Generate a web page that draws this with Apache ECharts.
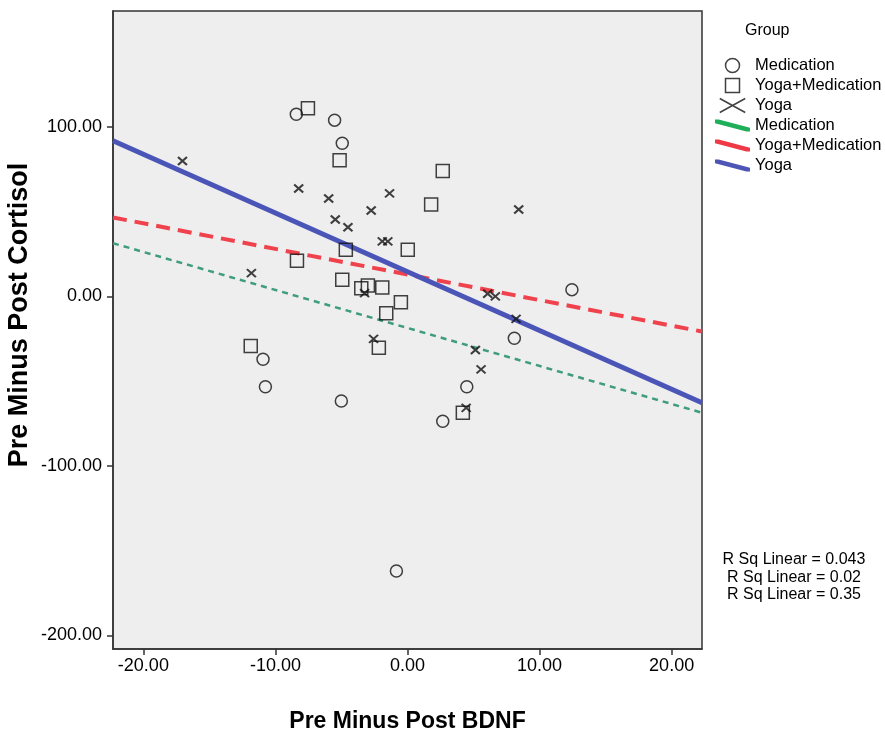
<!DOCTYPE html>
<html>
<head>
<meta charset="utf-8">
<title>BDNF vs Cortisol</title>
<style>
  html, body { margin: 0; padding: 0; background: #fff; }
  #main { width: 885px; height: 740px; }
</style>
</head>
<body>
<div id="main"></div>
<script src="https://cdn.jsdelivr.net/npm/echarts@6/dist/echarts.min.js"></script>
<script>
// points: [BDNF change, cortisol change]
var medication = [
  [-8.42, 107.5], [-5.52, 104], [-4.94, 90.4], [-10.94, -37.1], [-10.76, -53.3],
  [-5.01, -61.7], [12.45, 4.0], [8.09, -24.7], [4.49, -53.3], [2.67, -73.6], [-0.84, -162]
];
var yogaMed = [
  [-7.54, 111], [-5.14, 80.3], [2.67, 74], [1.79, 54.3], [0.02, 27.5], [-4.67, 27.6],
  [-8.37, 21.1], [-4.94, 9.9], [-3.5, 4.9], [-3.0, 6.5], [-1.91, 5.3], [-0.5, -3.4],
  [-1.61, -9.9], [-2.17, -30.2], [-11.87, -29.2], [4.19, -68.6]
];
var yoga = [
  [-17.04, 79.9], [-8.24, 63.7], [-5.97, 57.8], [-1.36, 60.8], [-2.75, 50.7], [-5.47, 45.4],
  [-4.51, 40.8], [-1.91, 32.5], [-1.49, 32.5], [8.42, 51.3], [-11.82, 13.8], [-3.25, 2.0],
  [-2.57, -25], [6.07, 1.6], [6.65, 0], [8.22, -13.2], [5.14, -31.6], [5.57, -43], [4.44, -65.7]
];

// fit lines, ends at the axis limits
var medFit = [[-22.3, 31.4], [22.3, -68.6]];
var yogaMedFit = [[-22.3, 46.6], [22.3, -20.7]];
var yogaFit = [[-22.3, 91.8], [22.3, -62.7]];

var xTicks = [-20, -10, 0, 10, 20];
var yTicks = [-200, -100, 0, 100];
var rsq = ['0.043', '0.02', '0.35'];

var chart = echarts.init(document.getElementById('main'));

var crossPath = 'path://M0,0L10,10M10,0L0,10';
var fitIcon = 'path://M0,0L4,0L38,9L38,13L34,13L0,4Z';
var hollow = { color: 'rgba(0,0,0,0)', borderColor: '#111', borderWidth: 1.5 };
var names = {
  med: 'Medication', ym: 'Yoga+Medication', yo: 'Yoga',
  medFit: 'Medication', ymFit: 'Yoga+Medication', yoFit: 'Yoga'
};
var font = 'Liberation Sans, Arial, sans-serif';

option = {
  backgroundColor: '#fff',
  animation: false,
  grid: {
    left: 113, right: 183, top: 11, bottom: 91,
    outerBoundsMode: 'none',
    show: true,
    backgroundColor: '#eeeeee',
    borderColor: '#333',
    borderWidth: 1.5
  },
  xAxis: {
    type: 'value',
    min: -22.3, max: 22.3,
    name: 'Pre Minus Post BDNF',
    nameLocation: 'middle',
    nameGap: 61,
    nameTextStyle: { fontFamily: font, fontWeight: 'bold', fontSize: 23, color: '#000' },
    splitLine: { show: false },
    axisLine: { onZero: false, lineStyle: { color: '#333', width: 1.5 } },
    axisTick: { customValues: xTicks, length: 6, lineStyle: { color: '#333', width: 1.5 } },
    axisLabel: {
      customValues: xTicks, margin: 8,
      fontFamily: font, fontSize: 18, color: '#000',
      formatter: function (v) { return v.toFixed(2); }
    }
  },
  yAxis: {
    type: 'value',
    min: -208, max: 168.4,
    name: 'Pre Minus Post Cortisol',
    nameLocation: 'middle',
    nameGap: 80,
    nameMoveOverlap: false,
    nameRotate: 90,
    nameTextStyle: {
      fontFamily: font, fontWeight: 'bold', fontSize: 27, color: '#000',
      padding: [0, 0, 0, 30]
    },
    splitLine: { show: false },
    axisLine: { onZero: false, lineStyle: { color: '#333', width: 1.5 } },
    axisTick: { customValues: yTicks, length: 6, lineStyle: { color: '#333', width: 1.5 } },
    axisLabel: {
      customValues: yTicks, margin: 11,
      fontFamily: font, fontSize: 18, color: '#000',
      formatter: function (v) { return v.toFixed(2); }
    }
  },
  legend: {
    orient: 'vertical',
    left: 710, top: 52,
    itemWidth: 35, itemHeight: 14, itemGap: 3,
    selectedMode: false,
    textStyle: { fontFamily: font, fontSize: 16.5, color: '#000', lineHeight: 16 },
    formatter: function (n) { return names[n]; },
    data: [
      { name: 'med', icon: 'circle', itemStyle: hollow },
      { name: 'ym', icon: 'path://M0,0L10,0L10,10L0,10Z', itemStyle: hollow },
      { name: 'yo', icon: 'path://M0,0L20,11M20,0L0,11', itemStyle: hollow },
      { name: 'medFit', icon: fitIcon, itemStyle: { color: '#1fae5a', borderWidth: 0 } },
      { name: 'ymFit', icon: fitIcon, itemStyle: { color: '#ee3a47', borderWidth: 0 } },
      { name: 'yoFit', icon: fitIcon, itemStyle: { color: '#4d55b5', borderWidth: 0 } }
    ]
  },
  graphic: [
    {
      type: 'text', left: 745, top: 23,
      style: { text: 'Group', font: '16px ' + font, fill: '#000' }
    },
    {
      type: 'text', x: 794, y: 551,
      style: {
        text: rsq.map(function (r) { return 'R Sq Linear = ' + r; }).join('\n'),
        font: '16px ' + font, fill: '#000', align: 'center', lineHeight: 17.5
      }
    }
  ],
  series: [
    {
      name: 'medFit', type: 'line', data: medFit, symbol: 'none', silent: true, z: 2,
      itemStyle: { color: '#1fae5a' },
      lineStyle: { color: '#3f9d7c', width: 2.5, type: [6, 5] }
    },
    {
      name: 'ymFit', type: 'line', data: yogaMedFit, symbol: 'none', silent: true, z: 2,
      itemStyle: { color: '#ee3a47' },
      lineStyle: { color: '#f0424c', width: 4, type: [14, 8] }
    },
    {
      name: 'yoFit', type: 'line', data: yogaFit, symbol: 'none', silent: true, z: 2,
      itemStyle: { color: '#4d55b5' },
      lineStyle: { color: '#4b55b8', width: 5 }
    },
    {
      name: 'med', type: 'scatter', data: medication, z: 3,
      symbol: 'circle', symbolSize: 12, itemStyle: hollow
    },
    {
      name: 'ym', type: 'scatter', data: yogaMed, z: 3,
      symbol: 'rect', symbolSize: 13, itemStyle: hollow
    },
    {
      name: 'yo', type: 'scatter', data: yoga, z: 3,
      symbol: crossPath, symbolSize: [9, 8],
      itemStyle: { color: 'rgba(0,0,0,0)', borderColor: '#111', borderWidth: 2 }
    }
  ]
};

chart.setOption(option);
</script>
</body>
</html>
